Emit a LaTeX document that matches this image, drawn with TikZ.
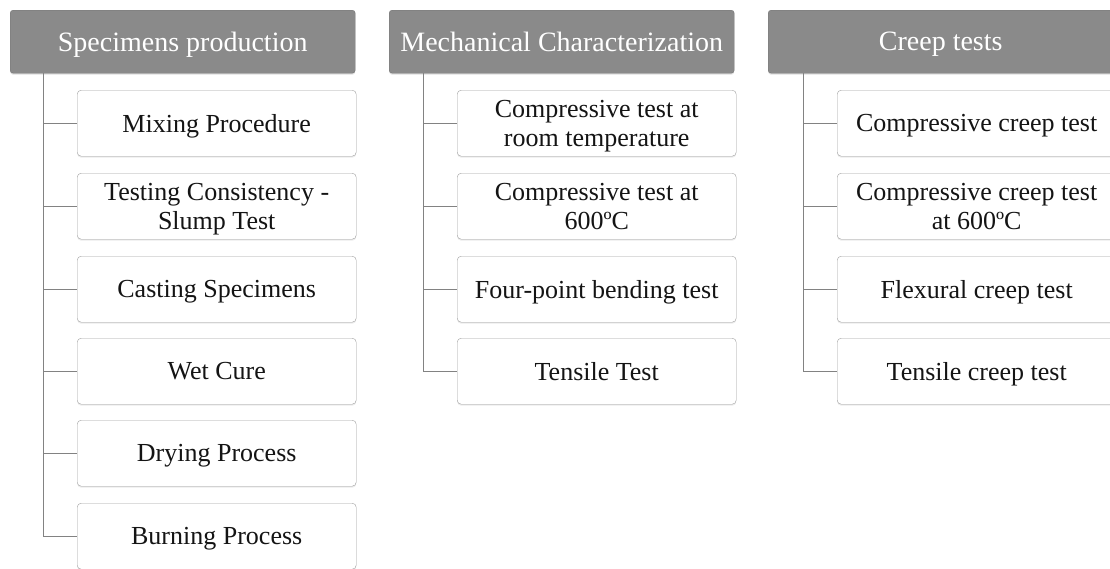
\documentclass[tikz,border=0pt]{standalone}
\usepackage{fontspec}
\setmainfont{Liberation Serif}
\usetikzlibrary{shadows}
\definecolor{hdrfill}{RGB}{138,138,138}
\definecolor{hdrdraw}{RGB}{118,118,118}
\definecolor{boxdraw}{RGB}{160,160,160}
\definecolor{linecol}{RGB}{130,130,130}
\definecolor{txt}{RGB}{20,20,20}
\tikzset{
  hdr/.style={draw=hdrdraw, fill=hdrfill, rounded corners=3pt, anchor=north west,
    minimum width=345pt, minimum height=63pt, inner sep=0pt, text=white,
    text depth=0pt, font=\fontsize{28}{30}\selectfont,
    drop shadow={opacity=0.25, shadow xshift=0pt, shadow yshift=-1.5pt}},
  kid/.style={draw=boxdraw, fill=white, rounded corners=4pt, anchor=north west,
    minimum width=279pt, minimum height=66pt, inner sep=0pt, text=txt, align=center,
    text depth=0pt, font=\fontsize{26}{29}\selectfont,
    drop shadow={opacity=0.15, shadow xshift=0pt, shadow yshift=-1.5pt}},
  conn/.style={draw=linecol, line width=1pt}
}
\begin{document}
\begin{tikzpicture}[x=1pt,y=-1pt]
\useasboundingbox (0,0) rectangle (1110,568);
\clip (0,0) rectangle (1110,568);
\fill[white] (0,0) rectangle (1110,568);
% headers
\node[hdr] (h1) at (10,10) {Specimens production};
\node[hdr] (h2) at (389,10) {Mechanical Characterization};
\node[hdr] (h3) at (768,10) {Creep tests};
% column 1
\node[kid] (a1) at (77,90) {Mixing Procedure};
\node[kid] (a2) at (77,173) {Testing Consistency -\\Slump Test};
\node[kid] (a3) at (77,256) {Casting Specimens};
\node[kid] (a4) at (77,338) {Wet Cure};
\node[kid] (a5) at (77,420) {Drying Process};
\node[kid] (a6) at (77,503) {Burning Process};
% column 2
\node[kid] (b1) at (457,90) {Compressive test at\\room temperature};
\node[kid] (b2) at (457,173) {Compressive test at\\600ºC};
\node[kid] (b3) at (457,256) {Four-point bending test};
\node[kid] (b4) at (457,338) {Tensile Test};
% column 3
\node[kid] (c1) at (837,90) {Compressive creep test};
\node[kid] (c2) at (837,173) {Compressive creep test\\at 600ºC};
\node[kid] (c3) at (837,256) {Flexural creep test};
\node[kid] (c4) at (837,338) {Tensile creep test};
% connectors
\coordinate (ta) at ([xshift=33pt]h1.south west);
\coordinate (tb) at ([xshift=34pt]h2.south west);
\coordinate (tc) at ([xshift=35pt]h3.south west);
\foreach \n in {a1,a2,a3,a4,a5,a6}
  \draw[conn] (ta) |- (\n.west);
\foreach \n in {b1,b2,b3,b4}
  \draw[conn] (tb) |- (\n.west);
\foreach \n in {c1,c2,c3,c4}
  \draw[conn] (tc) |- (\n.west);
\end{tikzpicture}
\end{document}
